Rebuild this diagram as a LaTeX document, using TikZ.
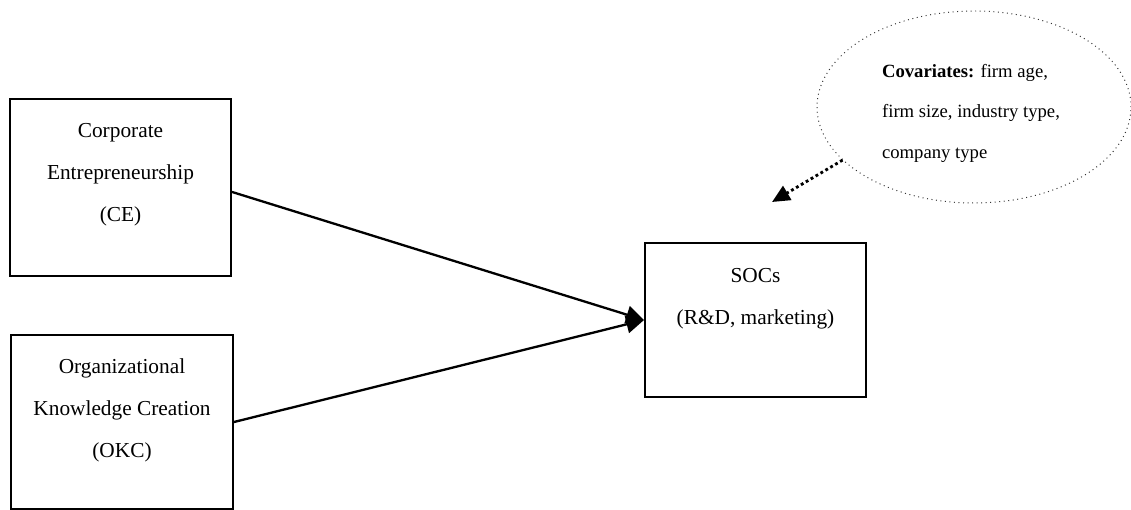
\documentclass[tikz,border=0pt]{standalone}
\usepackage{fontspec}
\setmainfont{Liberation Serif}
\usepackage{tikz}
\usetikzlibrary{shapes.geometric, arrows.meta, positioning}
\newlength\pxu
\setlength\pxu{0.5625pt}
\tikzset{
  factor/.style={rectangle, draw=black, line width=1.1pt, inner sep=0pt},
  boxtext/.style={align=center, font=\fontsize{12}{23.6}\selectfont, inner sep=0pt},
  covbubble/.style={ellipse, draw=black!80, dotted, line width=0.55pt, inner sep=0pt},
  covtext/.style={align=left, font=\fontsize{10.5}{22.8}\selectfont, inner sep=0pt},
  effect/.style={-{Triangle[length=10pt, width=10pt]}, line width=1.3pt},
  control/.style={-{Triangle[length=10pt, width=9pt]}, line width=1.6pt,
    dash pattern=on 1.6pt off 1.6pt}
}
\begin{document}
\begin{tikzpicture}[x=\pxu, y=-\pxu]
  \useasboundingbox (0,0) rectangle (1131,510);

  % Boxes
  \node[factor, minimum width={221*\pxu}, minimum height={177*\pxu}] (ce) at (120.5,187.5) {};
  \node[boxtext] (ce-text) at (120.5,175) {Corporate\\Entrepreneurship\\(CE)};

  \node[factor, minimum width={222*\pxu}, minimum height={174*\pxu}] (okc) at (122,422) {};
  \node[boxtext] (okc-text) at (122,410) {Organizational\\Knowledge Creation\\(OKC)};

  \node[factor, minimum width={221*\pxu}, minimum height={154*\pxu}] (socs) at (755.5,320) {};
  \node[boxtext] (socs-text) at (755.5,298.5) {SOCs\\(R\&D, marketing)};

  % Covariates
  \node[covbubble, minimum width={314*\pxu}, minimum height={192*\pxu}] (cov) at (974,107) {};
  \node[covtext] (cov-text) at (971,113)
    {\textbf{Covariates:} firm age,\\firm size, industry type,\\company type};
  \coordinate (cov-end) at (772,202);

  % Paths
  \draw[effect] ([yshift=-2.5pt]ce.east) -- (socs.west);
  \draw[effect] (okc.east) -- (socs.west);
  \draw[control] (cov.202) -- (cov-end);
\end{tikzpicture}
\end{document}
